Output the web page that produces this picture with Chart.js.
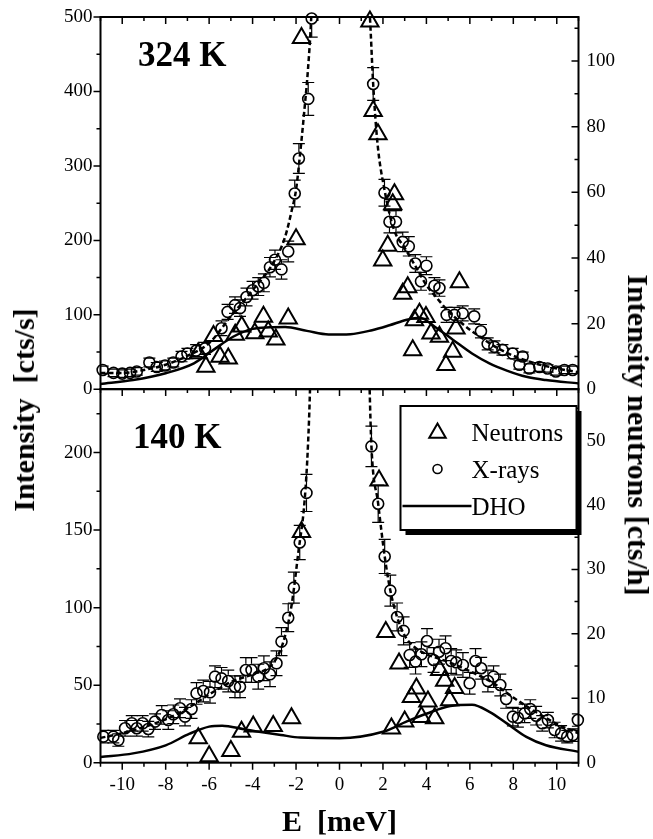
<!DOCTYPE html>
<html>
<head>
<meta charset="utf-8">
<script src="https://cdn.jsdelivr.net/npm/chart.js@4.4.0/dist/chart.umd.min.js"></script>
<style>
html, body { margin: 0; padding: 0; background: #fff; }
#wrap { position: relative; width: 653px; height: 839px; overflow: hidden; }
canvas { position: absolute; left: 0; }
#cTop { top: 0; }
#cBot { top: 380px; }
.ytitle { position: absolute; font: bold 30px "Liberation Serif", serif; line-height: 1; white-space: pre; color: #000; }
#tL { left: 24px; top: 410px; transform: translate(-50%, -50%) rotate(-90deg); }
#tR { left: 638px; top: 435px; transform: translate(-50%, -50%) rotate(90deg); }
</style>
</head>
<body>
<div id="wrap">
  <canvas id="cTop" width="653" height="400"></canvas>
  <canvas id="cBot" width="653" height="459"></canvas>
  <div class="ytitle" id="tL">Intensity  [cts/s]</div>
  <div class="ytitle" id="tR">Intensity neutrons [cts/h]</div>
</div>
<script>
// tick labels
var xTicks = [-10, -8, -6, -4, -2, 0, 2, 4, 6, 8, 10];
var topLeftTicks = [0, 100, 200, 300, 400, 500];
var topRightTicks = [0, 20, 40, 60, 80, 100];
var botLeftTicks = [0, 50, 100, 150, 200];
var botRightTicks = [0, 10, 20, 30, 40, 50];

// 324 K panel
var topXrayE = [-10.9, -10.4, -10.0, -9.64, -9.33, -8.75, -8.41, -8.03, -7.65, -7.27, -7.0, -6.6, -6.19, -5.43, -5.15, -4.81, -4.58, -4.28, -4.0, -3.74, -3.48, -3.2, -2.97, -2.67, -2.36, -2.06, -1.87, -1.44, -1.28,
    1.55, 2.07, 2.3, 2.6, 2.91, 3.19, 3.49, 3.75, 4.0, 4.37, 4.6, 4.93, 5.29, 5.67, 6.2, 6.51, 6.82, 7.13, 7.5, 7.97, 8.28, 8.43, 8.74, 9.2, 9.58, 9.96, 10.35, 10.73];
var topXrayI = [26, 22, 21, 22, 24, 36, 30, 32, 36, 44, 48, 52, 55, 82, 104, 113, 109, 124, 133, 138, 143, 164, 174, 161, 185, 263, 310, 390, 498,
    410, 264, 225, 225, 198, 192, 169, 145, 166, 139, 136, 100, 100, 102, 98, 78, 61, 57, 53, 48, 33, 44, 28, 30, 28, 24, 26, 26];
var topXrayErr = [5, 5, 5, 5, 5, 6, 6, 6, 6, 7, 7, 8, 8, 10, 10, 11, 11, 12, 12, 12, 12, 13, 13, 13, 14, 18, 20, 22, 25,
    22, 18, 15, 15, 13, 13, 12, 12, 12, 11, 11, 10, 10, 10, 10, 9, 8, 8, 7, 7, 6, 6, 6, 6, 5, 5, 5, 5];
var topNeutE = [-6.5, -6.15, -5.8, -5.5, -5.12, -4.8, -4.5, -3.9, -3.5, -3.28, -2.93, -2.36, -2.0, -1.75, 1.4, 1.55, 1.77, 1.99, 2.22, 2.45, 2.53, 2.91, 3.14, 3.37, 3.45, 3.68, 3.98, 4.21, 4.6, 4.9, 5.21, 5.36, 5.52];
var topNeutI = [11.0, 6.9, 16.2, 9.9, 9.4, 16.6, 19.1, 17.1, 22.1, 17.6, 15.2, 21.6, 45.7, 107, 112, 84.8, 77.7, 39.2, 43.7, 56.4, 59.4, 29.1, 31.1, 11.9, 21, 23.0, 22.0, 17.0, 16.0, 7.4, 11.4, 18.5, 32.6];
var topDhoE = [-11, -9.5, -8, -6.7, -5.8, -4.9, -4, -3.2, -2.5, -1.5, -0.5, 0.5, 1.5, 2.3, 3.1, 3.7, 4.4, 5.2, 6.1, 6.9, 7.7, 8.6, 9.5, 11];
var topDhoI = [1.6, 2.8, 4.9, 7.9, 12.0, 16.0, 18.4, 18.9, 19.0, 17.8, 16.7, 16.8, 18.0, 19.5, 21.2, 21.8, 19.0, 15.2, 10.9, 7.9, 5.7, 3.8, 2.8, 1.8];
var topFitE = [-11, -10, -9, -8, -7, -6, -5, -4, -3, -2.5, -2.2, -2, -1.8, -1.6, -1.45, -1.3, -1.15, -1, 0, 1, 1.15, 1.3, 1.4, 1.55, 1.75, 2.07, 2.5, 3, 3.5, 4, 4.5, 5, 5.5, 6, 6.5, 7, 7.5, 8, 9, 10, 11];
var topFitI = [22, 22, 26, 33, 45, 62, 98, 133, 172, 205, 240, 268, 320, 380, 430, 500, 620, 800, 2000, 800, 620, 540, 500, 410, 330, 268, 215, 190, 165, 140, 122, 105, 92, 80, 70, 60, 52, 45, 35, 28, 23];

// 140 K panel
var botXrayE = [-10.87, -10.41, -10.18, -9.87, -9.56, -9.33, -9.06, -8.8, -8.49, -8.18, -7.88, -7.65, -7.34, -7.11, -6.81, -6.58, -6.27, -5.96, -5.73, -5.43, -5.12, -4.81, -4.58, -4.31, -4.05, -3.74, -3.48, -3.2, -2.9, -2.67, -2.36, -2.1, -1.83, -1.52,
    1.47, 1.78, 2.08, 2.34, 2.65, 2.95, 3.23, 3.5, 3.77, 4.03, 4.33, 4.58, 4.88, 5.14, 5.37, 5.68, 5.99, 6.26, 6.52, 6.83, 7.09, 7.4, 7.67, 7.98, 8.21, 8.52, 8.78, 9.05, 9.33, 9.59, 9.9, 10.2, 10.48, 10.74, 10.97];
var botXrayI = [16.8, 16.8, 14.6, 22.2, 25.4, 22.2, 25.4, 21.7, 26.5, 30.8, 27.5, 31.2, 35.1, 29.7, 34.6, 44.7, 46.2, 45.4, 55.5, 54.4, 52.7, 49, 49, 59.8, 59.8, 55.5, 60.9, 57, 64.1, 78.1, 93.5, 112.9, 142, 174,
    204, 167, 133, 111, 94, 85, 69.5, 65.2, 69.9, 78.5, 66.2, 71.6, 73.8, 65.6, 64.7, 63, 51.2, 65.6, 60.9, 52.7, 55.5, 50.1, 41.1, 29.7, 29, 31.8, 34.6, 30.3, 25.4, 27.5, 21.1, 18.9, 16.8, 17.8, 27.5];
var botXrayErr = [4, 4, 4, 5, 5, 5, 5, 5, 5, 6, 6, 6, 6, 6, 6, 7, 7, 7, 7, 7, 7, 7, 7, 8, 8, 8, 8, 8, 8, 9, 9, 10, 11, 12,
    13, 12, 11, 10, 9, 9, 8, 8, 8, 8, 8, 8, 8, 8, 8, 8, 7, 8, 7, 7, 7, 7, 6, 6, 6, 6, 6, 6, 5, 5, 5, 5, 4, 4, 4];
var botNeutE = [-6.5, -6.0, -5.0, -4.51, -3.97, -3.05, -2.21, -1.75, 1.82, 2.13, 2.39, 2.74, 3.0, 3.31, 3.54, 3.77, 4.07, 4.38, 4.61, 4.84, 5.07, 5.3];
var botNeutI = [3.8, 1.0, 1.8, 4.8, 5.6, 5.7, 6.9, 35.8, 43.8, 20.3, 5.3, 15.4, 6.4, 10.2, 11.5, 7.1, 9.5, 6.9, 14.4, 12.7, 9.7, 11.6];
var botDhoE = [-11, -9.5, -8, -6.9, -6, -5.4, -4.4, -3.7, -2.7, -1.8, 0, 2, 3.1, 4, 5.1, 6.1, 6.9, 7.7, 8.6, 9.5, 11];
var botDhoI = [0.9, 1.45, 2.7, 4.5, 5.6, 5.75, 5.2, 4.8, 4.3, 3.9, 3.8, 4.8, 6.4, 7.6, 8.8, 9.0, 7.9, 6.1, 4.0, 2.7, 1.7];
var botFitE = [-11, -10, -9, -8, -7, -6, -5, -4, -3.2, -2.8, -2.5, -2.2, -1.9, -1.6, -1.45, -1.35, -1, 0, 1, 1.38, 1.47, 1.78, 2.08, 2.34, 2.65, 3, 3.5, 4, 5, 6, 7, 8, 9, 10, 11];
var botFitI = [16, 19, 23, 28, 35, 44, 52, 57, 62, 70, 82, 102, 135, 170, 205, 245, 500, 1000, 500, 245, 204, 167, 133, 111, 94, 82, 74, 70, 65, 59, 52, 42, 33, 25, 19];

Chart.defaults.font.family = '"Liberation Serif", "Times New Roman", serif';
Chart.defaults.color = '#000';

function pts(xs, ys) {
    return xs.map(function (x, i) { return { x: x, y: ys[i] }; });
}

// error bars, drawn outside the circle so the open marker stays clean
var errPlugin = {
    id: 'errbars',
    afterDatasetsDraw: function (chart) {
        var ctx = chart.ctx, a = chart.chartArea;
        ctx.save();
        ctx.beginPath();
        ctx.rect(a.left, a.top, a.right - a.left, a.bottom - a.top);
        ctx.clip();
        ctx.strokeStyle = '#000';
        ctx.lineWidth = 1.2;
        chart.data.datasets.forEach(function (ds) {
            if (!ds.errorBars) return;
            var xs = chart.scales.x, ys = chart.scales[ds.yAxisID];
            var r = ds.pointRadius + 0.8;
            ds.data.forEach(function (p, i) {
                var e = ds.errorBars[i];
                var px = xs.getPixelForValue(p.x), py = ys.getPixelForValue(p.y);
                var hi = ys.getPixelForValue(p.y + e), lo = ys.getPixelForValue(p.y - e);
                ctx.beginPath();
                if (py - hi > r) { ctx.moveTo(px, hi); ctx.lineTo(px, py - r); }
                if (lo - py > r) { ctx.moveTo(px, py + r); ctx.lineTo(px, lo); }
                ctx.moveTo(px - 6, hi); ctx.lineTo(px + 6, hi);
                ctx.moveTo(px - 6, lo); ctx.lineTo(px + 6, lo);
                ctx.stroke();
            });
        });
        ctx.restore();
    }
};

// box, tick marks (major + minor) and the temperature label
var framePlugin = {
    id: 'frame',
    afterDraw: function (chart, args, o) {
        var ctx = chart.ctx, a = chart.chartArea;
        var sx = chart.scales.x, sy = chart.scales.y, sr = chart.scales.yR;
        ctx.save();
        ctx.strokeStyle = '#000';
        ctx.lineWidth = 1.5;

        function marks(scale, minor, major, fn) {
            for (var v = Math.ceil(scale.min / minor) * minor; v <= scale.max + 1e-6; v += minor) {
                var isMajor = Math.abs(v / major - Math.round(v / major)) < 1e-6;
                fn(scale.getPixelForValue(v), isMajor ? 7 : 4);
            }
        }
        ctx.beginPath();
        marks(sy, o.yMinor, o.yMajor, function (p, len) { ctx.moveTo(a.left, p); ctx.lineTo(a.left - len, p); });
        marks(sr, o.rMinor, o.rMajor, function (p, len) { ctx.moveTo(a.right, p); ctx.lineTo(a.right - len, p); });
        marks(sx, 1, 2, function (p, len) {
            if (o.topTicks) { ctx.moveTo(p, a.top); ctx.lineTo(p, a.top + len); }
            if (o.bottomTicks) { ctx.moveTo(p, a.bottom); ctx.lineTo(p, a.bottom + len); }
        });
        ctx.stroke();

        ctx.lineWidth = 2;
        ctx.strokeRect(a.left, a.top, a.right - a.left, a.bottom - a.top);

        ctx.fillStyle = '#000';
        ctx.font = 'bold 35px "Liberation Serif"';
        ctx.textBaseline = 'alphabetic';
        ctx.textAlign = 'left';
        ctx.fillText(o.label, a.left + o.lx, a.top + o.ly);
        ctx.restore();
    }
};

var legendPlugin = {
    id: 'boxLegend',
    afterDraw: function (chart, args, o) {
        if (!o.show) return;
        var ctx = chart.ctx, a = chart.chartArea;
        var w = 176, h = 124, x = a.right - 178, y = a.top + 17;
        ctx.save();
        ctx.fillStyle = '#000';
        ctx.fillRect(x + 5, y + 5, w, h);
        ctx.fillStyle = '#fff';
        ctx.fillRect(x, y, w, h);
        ctx.lineWidth = 2;
        ctx.strokeStyle = '#000';
        ctx.strokeRect(x, y, w, h);

        ctx.fillStyle = 'rgba(0,0,0,0)';
        ctx.lineWidth = 2;
        Chart.helpers.drawPoint(ctx, { pointStyle: 'triangle', radius: 9.5, borderWidth: 2, rotation: 0 }, x + 37, y + 27);
        ctx.lineWidth = 1.6;
        Chart.helpers.drawPoint(ctx, { pointStyle: 'circle', radius: 4.5, borderWidth: 1.6, rotation: 0 }, x + 37, y + 63);
        ctx.lineWidth = 2.5;
        ctx.beginPath();
        ctx.moveTo(x + 2, y + 100);
        ctx.lineTo(x + 71, y + 100);
        ctx.stroke();

        ctx.fillStyle = '#000';
        ctx.font = '25px "Liberation Serif"';
        ctx.textBaseline = 'alphabetic';
        ctx.fillText('Neutrons', x + 71, y + 35);
        ctx.fillText('X-rays', x + 71, y + 72);
        ctx.fillText('DHO', x + 71, y + 109);
        ctx.restore();
    }
};

function noPad(s) {
    s.paddingTop = 0; s.paddingBottom = 0; s.paddingLeft = 0; s.paddingRight = 0;
}

function yAxis(pos, max, ticks, width) {
    return {
        type: 'linear', position: pos, min: 0, max: max,
        afterBuildTicks: function (s) { s.ticks = ticks.map(function (v) { return { value: v }; }); },
        afterFit: function (s) { s.width = width; noPad(s); },
        grid: { display: false, drawTicks: false },
        border: { display: false },
        ticks: { padding: 8, font: { size: 19 }, color: '#000' }
    };
}

function makePanel(canvasId, p) {
    return new Chart(document.getElementById(canvasId), {
        type: 'scatter',
        data: {
            datasets: [
                { label: 'Neutrons', data: pts(p.neutE, p.neutI), yAxisID: 'yR', pointStyle: 'triangle', pointRadius: 10,
                  pointBorderWidth: 2, pointBorderColor: '#000', pointBackgroundColor: 'rgba(0,0,0,0)', clip: false },
                { label: 'X-rays', data: pts(p.xrayE, p.xrayI), yAxisID: 'y', pointStyle: 'circle', pointRadius: 5.5,
                  pointBorderWidth: 1.6, pointBorderColor: '#000', pointBackgroundColor: 'rgba(0,0,0,0)', clip: false,
                  errorBars: p.xrayErr },
                { label: 'fit', data: pts(p.fitE, p.fitI), yAxisID: 'y', showLine: true, pointRadius: 0,
                  borderColor: '#000', borderWidth: 2.5, borderDash: [5, 3], cubicInterpolationMode: 'monotone' },
                { label: 'DHO', data: pts(p.dhoE, p.dhoI), yAxisID: 'yR', showLine: true, pointRadius: 0,
                  borderColor: '#000', borderWidth: 2.5, cubicInterpolationMode: 'monotone' }
            ]
        },
        options: {
            responsive: false,
            animation: false,
            events: [],
            layout: { autoPadding: false, padding: p.padding },
            scales: {
                x: {
                    type: 'linear', min: -11, max: 11, display: p.showX,
                    afterBuildTicks: function (s) { s.ticks = xTicks.map(function (v) { return { value: v }; }); },
                    afterFit: function (s) { s.height = p.showX ? 76.3 : 0; noPad(s); },
                    grid: { display: false, drawTicks: false },
                    border: { display: false },
                    ticks: { padding: 11, font: { size: 19 }, color: '#000', maxRotation: 0, autoSkip: false },
                    title: { display: true, text: 'E  [meV]', color: '#000',
                             font: { size: 30, weight: 'bold', lineHeight: 1 }, padding: { top: 0, bottom: 1 } }
                },
                y: yAxis('left', p.yMax, p.leftTicks, 100.5),
                yR: yAxis('right', p.rMax, p.rightTicks, 74.5)
            },
            plugins: {
                legend: { display: false },
                tooltip: { enabled: false },
                frame: p.frame,
                boxLegend: { show: p.legend }
            }
        },
        plugins: [errPlugin, framePlugin, legendPlugin]
    });
}

makePanel('cTop', {
    neutE: topNeutE, neutI: topNeutI, xrayE: topXrayE, xrayI: topXrayI, xrayErr: topXrayErr,
    fitE: topFitE, fitI: topFitI, dhoE: topDhoE, dhoI: topDhoI,
    yMax: 500, rMax: 113.4, leftTicks: topLeftTicks, rightTicks: topRightTicks,
    padding: { top: 17, bottom: 10.7, left: 0, right: 0 }, showX: false, legend: false,
    frame: { yMinor: 50, yMajor: 100, rMinor: 10, rMajor: 20, topTicks: true, bottomTicks: false, label: '324 K', lx: 37.5, ly: 49 }
});

makePanel('cBot', {
    neutE: botNeutE, neutI: botNeutI, xrayE: botXrayE, xrayI: botXrayI, xrayErr: botXrayErr,
    fitE: botFitE, fitI: botFitI, dhoE: botDhoE, dhoI: botDhoI,
    yMax: 241, rMax: 58, leftTicks: botLeftTicks, rightTicks: botRightTicks,
    padding: { top: 9, bottom: 0, left: 0, right: 0 }, showX: true, legend: true,
    frame: { yMinor: 25, yMajor: 50, rMinor: 5, rMajor: 10, topTicks: true, bottomTicks: true, label: '140 K', lx: 32.5, ly: 59 }
});
</script>
</body>
</html>
